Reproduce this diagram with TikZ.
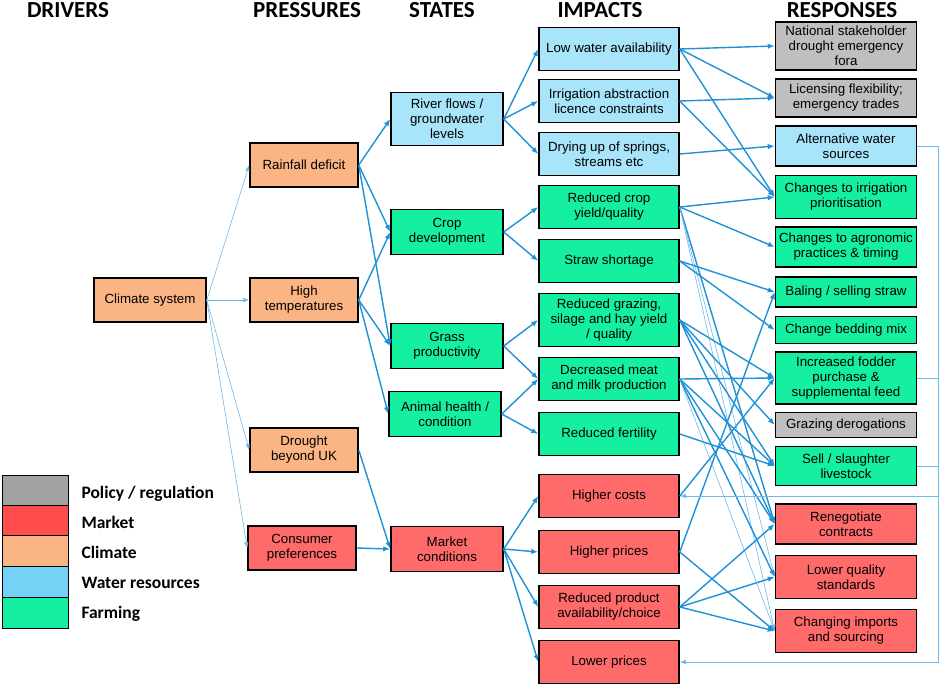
\documentclass[tikz,border=0pt]{standalone}
\usepackage{fontspec}
\setmainfont{Liberation Sans}
\newfontfamily\headfont{Carlito}
\usetikzlibrary{arrows.meta}
\definecolor{climcol}{RGB}{251,181,132}
\definecolor{marketcol}{RGB}{255,107,107}
\definecolor{watercol}{RGB}{168,228,250}
\definecolor{farmcol}{RGB}{20,240,160}
\definecolor{policycol}{RGB}{191,191,191}
\definecolor{linkcol}{RGB}{30,145,215}
\definecolor{faintcol}{RGB}{110,185,235}
\begin{document}
\begin{tikzpicture}[x=1pt,y=-1pt,
		every node/.style={font=\fontsize{13.3}{15}\selectfont},
		box/.style={rectangle, draw=black, line width=1.5pt, align=center, inner sep=1pt},
		drv/.style={box, minimum width=112pt, minimum height=44pt},
		prs/.style={box, minimum width=108pt, minimum height=44pt},
		sta/.style={box, minimum width=112pt, minimum height=45pt},
		imp/.style={box, minimum width=140pt, minimum height=43pt},
		rsp/.style={box, minimum width=141pt},
		clim/.style={fill=climcol},
		mkt/.style={fill=marketcol},
		wat/.style={fill=watercol},
		farm/.style={fill=farmcol},
		pol/.style={fill=policycol},
		head/.style={font=\headfont\bfseries\fontsize{23}{25}\selectfont, anchor=base},
		key/.style={font=\headfont\bfseries\fontsize{17.5}{20}\selectfont, anchor=base west},
		link/.style={draw=linkcol, line width=1.4pt, -{Latex[length=7pt,width=5.5pt]}},
		faint/.style={draw=faintcol, line width=0.6pt, -{Latex[length=6pt,width=4.5pt]}},
		feedback/.style={draw=faintcol, line width=0.8pt}
		]
		\useasboundingbox (0,0) rectangle (941,686);
		% column titles
		\node[head] at (68,17) {DRIVERS};
		\node[head] at (307,17) {PRESSURES};
		\node[head] at (442,17) {STATES};
		\node[head] at (600,17) {IMPACTS};
		\node[head] at (842,17) {RESPONSES};
		% drivers and pressures
		\node[drv, clim] (climate) at (150,300) {Climate system};
		\node[prs, clim] (rain) at (304,165) {Rainfall deficit};
		\node[prs, clim] (heat) at (304,300) {High\\temperatures};
		\node[prs, clim] (drought) at (304,450) {Drought\\beyond UK};
		\node[prs, mkt] (consumer) at (302,548) {Consumer\\preferences};
		% states
		\node[sta, wat, minimum height=53pt] (river) at (447,119) {River flows /\\groundwater\\levels};
		\node[sta, farm] (crop) at (447,232) {Crop\\development};
		\node[sta, farm] (grass) at (447,346) {Grass\\productivity};
		\node[sta, farm] (animal) at (445,414) {Animal health /\\condition};
		\node[sta, mkt] (market) at (447,549) {Market\\conditions};
		% impacts
		\node[imp, wat] (lowwater) at (609,49) {Low water availability};
		\node[imp, wat] (licence) at (609,101) {Irrigation abstraction\\licence constraints};
		\node[imp, wat] (drying) at (609,154) {Drying up of springs,\\streams etc};
		\node[imp, farm] (cropyield) at (609,207) {Reduced crop\\yield/quality};
		\node[imp, farm] (straw) at (609,261) {Straw shortage};
		\node[imp, farm, minimum height=53pt] (grazing) at (609,320) {Reduced grazing,\\silage and hay yield\\/ quality};
		\node[imp, farm] (meatmilk) at (609,379) {Decreased meat\\and milk production};
		\node[imp, farm] (fertility) at (609,434) {Reduced fertility};
		\node[imp, mkt] (hcosts) at (609,496) {Higher costs};
		\node[imp, mkt] (hprices) at (609,552) {Higher prices};
		\node[imp, mkt] (availability) at (609,607) {Reduced product\\availability/choice};
		\node[imp, mkt] (lprices) at (609,662) {Lower prices};
		% responses
		\node[rsp, pol, minimum height=48pt] (fora) at (846,46) {National stakeholder\\drought emergency\\fora};
		\node[rsp, pol, minimum height=38pt] (licensing) at (846,98) {Licensing flexibility;\\emergency trades};
		\node[rsp, wat, minimum height=40pt] (altwater) at (846,146) {Alternative water\\sources};
		\node[rsp, farm, minimum height=43pt] (irrigation) at (846,197) {Changes to irrigation\\prioritisation};
		\node[rsp, farm, minimum height=40pt] (agronomic) at (846,247) {Changes to agronomic\\practices \& timing};
		\node[rsp, farm, minimum height=30pt] (baling) at (846,292) {Baling / selling straw};
		\node[rsp, farm, minimum height=27pt] (bedding) at (846,330) {Change bedding mix};
		\node[rsp, farm, minimum height=52pt] (fodder) at (846,378) {Increased fodder\\purchase \&\\supplemental feed};
		\node[rsp, pol, minimum height=25pt] (derogation) at (846,425) {Grazing derogations};
		\node[rsp, farm, minimum height=39pt] (slaughter) at (846,466) {Sell / slaughter\\livestock};
		\node[rsp, mkt, minimum height=40pt] (renegotiate) at (846,524) {Renegotiate\\contracts};
		\node[rsp, mkt, minimum height=43pt] (quality) at (846,577) {Lower quality\\standards};
		\node[rsp, mkt, minimum height=43pt] (imports) at (846,631) {Changing imports\\and sourcing};
		% legend
		\draw[fill=policycol!85!black] (2,475) rectangle (68,505);
		\draw[fill=red!70!white] (2,505) rectangle (68,535);
		\draw[fill=climcol] (2,535) rectangle (68,566);
		\draw[fill=cyan!55!white] (2,566) rectangle (68,597);
		\draw[fill=farmcol] (2,597) rectangle (68,628);
		\node[key] at (78,498) {Policy / regulation};
		\node[key] at (78,528) {Market};
		\node[key] at (78,558) {Climate};
		\node[key] at (78,588) {Water resources};
		\node[key] at (78,618) {Farming};
		% drivers to pressures
		\draw[faint] (climate.east) -- (rain.west);
		\draw[faint] (climate.east) -- (heat.west);
		\draw[faint] (climate.east) -- (drought.west);
		\draw[faint] (climate.east) -- (consumer.west);
		% pressures to states
		\draw[link] (rain.east) -- (river.west);
		\draw[link] (rain.east) -- (crop.west);
		\draw[link] (rain.east) -- (grass.west);
		\draw[link] (heat.east) -- (crop.west);
		\draw[link] (heat.east) -- (grass.west);
		\draw[link] (heat.east) -- (animal.west);
		\draw[link] (drought.east) -- (market.west);
		\draw[link] (consumer.east) -- (market.west);
		% states to impacts
		\draw[link] (river.east) -- (lowwater.west);
		\draw[link] (river.east) -- (licence.west);
		\draw[link] (river.east) -- (drying.west);
		\draw[link] (crop.east) -- (cropyield.west);
		\draw[link] (crop.east) -- (straw.west);
		\draw[link] (grass.east) -- (grazing.west);
		\draw[link] (grass.east) -- (meatmilk.west);
		\draw[link] (animal.east) -- (meatmilk.west);
		\draw[link] (animal.east) -- (fertility.west);
		\draw[link] (market.east) -- (hcosts.west);
		\draw[link] (market.east) -- (hprices.west);
		\draw[link] (market.east) -- (availability.west);
		\draw[link] (market.east) -- (lprices.west);
		% impacts to responses
		\draw[link] (lowwater.east) -- (fora.west);
		\draw[link] (lowwater.east) -- (licensing.west);
		\draw[link] (lowwater.east) -- (irrigation.west);
		\draw[link] (licence.east) -- (licensing.west);
		\draw[link] (licence.east) -- (irrigation.west);
		\draw[link] (drying.east) -- (altwater.west);
		\draw[link] (cropyield.east) -- (irrigation.west);
		\draw[link] (cropyield.east) -- (agronomic.west);
		\draw[link] (cropyield.east) -- (renegotiate.west);
		\draw[faint] (cropyield.east) -- (quality.west);
		\draw[faint] (cropyield.east) -- (imports.west);
		\draw[link] (straw.east) -- (baling.west);
		\draw[link] (straw.east) -- (bedding.west);
		\draw[link] (grazing.east) -- (fodder.west);
		\draw[link] (grazing.east) -- (derogation.west);
		\draw[link] (grazing.east) -- (slaughter.west);
		\draw[link] (grazing.east) -- (renegotiate.west);
		\draw[link] (meatmilk.east) -- (fodder.west);
		\draw[link] (meatmilk.east) -- (slaughter.west);
		\draw[link] (meatmilk.east) -- (renegotiate.west);
		\draw[link] (meatmilk.east) -- (quality.west);
		\draw[faint] (meatmilk.east) -- (imports.west);
		\draw[link] (fertility.east) -- (slaughter.west);
		\draw[link] (hcosts.east) -- (fodder.west);
		\draw[link] (hprices.east) -- (baling.west);
		\draw[link] (hprices.east) -- (imports.west);
		\draw[link] (availability.east) -- (renegotiate.west);
		\draw[link] (availability.east) -- (quality.west);
		\draw[link] (availability.east) -- (imports.west);
		% feedback from responses
		\coordinate (rail) at (938,662);
		\draw[feedback, -{Latex[length=6pt,width=4.5pt]}] (altwater.east) -| (rail) -- (lprices.east);
		\draw[feedback] (fodder.east) -- (fodder.east -| rail);
		\draw[feedback] (slaughter.east) -- (slaughter.east -| rail);
		\draw[feedback, -{Latex[length=6pt,width=4.5pt]}] (rail |- hcosts.east) -- (hcosts.east);
	\end{tikzpicture}
\end{document}
